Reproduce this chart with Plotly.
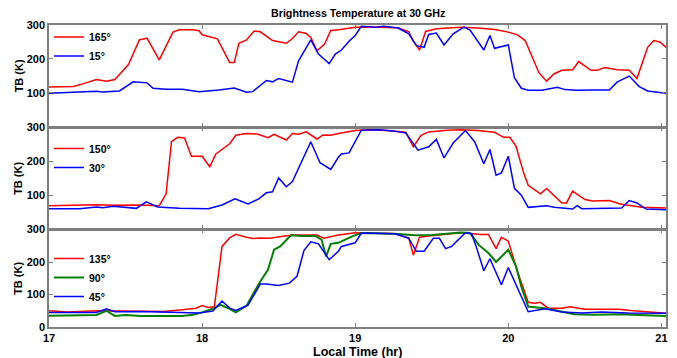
import plotly.graph_objects as go
from plotly.subplots import make_subplots

# ---------------- data (local time in hr, brightness temperature in K) ----------------
t_165 = [17.00, 17.08, 17.16, 17.22, 17.27, 17.31, 17.375, 17.43, 17.46, 17.52, 17.59, 17.64, 17.72, 17.81,
         17.85, 17.94, 17.98, 18.00, 18.10, 18.18, 18.21, 18.24, 18.29, 18.34, 18.38, 18.46, 18.55, 18.59,
         18.63, 18.68, 18.71, 18.75, 18.80, 18.84, 18.89, 19.00, 19.10, 19.20, 19.28, 19.35, 19.38, 19.42,
         19.46, 19.53, 19.60, 19.69, 19.80, 19.91, 20.00, 20.06, 20.11, 20.15, 20.20, 20.25, 20.30, 20.35,
         20.42, 20.46, 20.54, 20.58, 20.63, 20.71, 20.79, 20.84, 20.91, 20.95, 20.99, 21.03]
v_165 = [117, 118, 118, 126, 134, 139, 134, 139, 154, 184, 256, 261, 197, 279,
         286, 286, 283, 271, 259, 189, 189, 246, 256, 282, 280, 254, 246, 260,
         280, 275, 263, 224, 244, 284, 286, 293, 294, 294, 292, 280, 252, 226,
         281, 289, 291, 293, 291, 287, 279, 271, 254, 214, 159, 134, 156, 166,
         168, 192, 166, 166, 174, 168, 166, 142, 234, 254, 250, 234]

t_15 = [17.00, 17.115, 17.22, 17.31, 17.35, 17.42, 17.46, 17.55, 17.64, 17.68, 17.765, 17.87, 17.98, 18.11,
        18.21, 18.29, 18.33, 18.42, 18.46, 18.50, 18.59, 18.63, 18.71, 18.76, 18.83, 18.87, 18.91, 18.96,
        19.00, 19.04, 19.13, 19.185, 19.28, 19.35, 19.40, 19.45, 19.48, 19.53, 19.58, 19.64, 19.71, 19.75,
        19.78, 19.84, 19.88, 19.91, 20.00, 20.04, 20.085, 20.13, 20.22, 20.32, 20.37, 20.45, 20.55, 20.66,
        20.71, 20.79, 20.855, 20.91, 21.03]
v_15 = [98, 100, 101, 104, 102, 105, 105, 132, 129, 113, 110, 110, 103, 108,
        114, 101, 103, 136, 132, 142, 131, 194, 256, 214, 186, 214, 226, 252,
        269, 296, 293, 296, 291, 274, 239, 234, 272, 276, 241, 274, 294, 285,
        264, 226, 269, 231, 241, 144, 113, 107, 107, 116, 109, 107, 108, 108,
        131, 149, 118, 105, 98]

t_150 = [17.00, 17.15, 17.31, 17.42, 17.59, 17.72, 17.765, 17.80, 17.84, 17.885, 17.93, 18.00, 18.05, 18.09,
         18.18, 18.22, 18.29, 18.36, 18.43, 18.47, 18.55, 18.59, 18.63, 18.68, 18.75, 18.79, 18.84, 18.89,
         19.00, 19.10, 19.20, 19.33, 19.38, 19.43, 19.48, 19.60, 19.69, 19.80, 19.91, 19.97, 20.01, 20.05,
         20.10, 20.13, 20.21, 20.25, 20.35, 20.38, 20.42, 20.50, 20.55, 20.66, 20.73, 20.87, 21.03]
v_150 = [69, 70, 72, 70, 71, 69, 104, 258, 271, 269, 215, 215, 184, 222,
         252, 277, 282, 281, 270, 280, 263, 282, 280, 287, 266, 278, 277, 282,
         291, 293, 291, 286, 243, 277, 287, 292, 293, 291, 286, 271, 271, 245,
         166, 129, 104, 120, 77, 77, 112, 87, 83, 84, 74, 64, 62]

t_30 = [17.00, 17.115, 17.20, 17.31, 17.35, 17.42, 17.51, 17.57, 17.635, 17.71, 17.85, 17.94, 18.04, 18.13,
        18.215, 18.30, 18.37, 18.42, 18.46, 18.50, 18.55, 18.59, 18.66, 18.71, 18.77, 18.84, 18.89, 18.91,
        18.96, 19.04, 19.15, 19.25, 19.33, 19.41, 19.48, 19.53, 19.58, 19.64, 19.72, 19.78, 19.84, 19.88,
        19.92, 19.955, 20.00, 20.04, 20.085, 20.13, 20.25, 20.30, 20.42, 20.45, 20.48, 20.60, 20.74, 20.79,
        20.84, 20.90, 21.03]
v_30 = [60, 61, 60, 65, 63, 67, 63, 61, 80, 65, 61, 60, 60, 71,
        89, 74, 89, 107, 110, 151, 125, 140, 210, 258, 196, 176, 212, 222,
        225, 292, 293, 290, 284, 233, 243, 265, 210, 254, 291, 258, 193, 235,
        159, 166, 215, 120, 100, 64, 69, 64, 59, 69, 60, 60, 62, 84,
        77, 59, 57]

t_135 = [17.00, 17.12, 17.31, 17.53, 17.75, 17.87, 17.96, 18.00, 18.04, 18.08, 18.13, 18.18, 18.22, 18.29,
         18.33, 18.38, 18.44, 18.54, 18.60, 18.75, 18.795, 18.89, 19.00, 19.26, 19.35, 19.38, 19.42, 19.48,
         19.69, 19.82, 19.87, 19.92, 19.955, 20.00, 20.06, 20.13, 20.17, 20.21, 20.26, 20.35, 20.40, 20.50,
         20.58, 20.72, 20.80, 21.03]
v_135 = [50, 46, 50, 48, 48, 53, 58, 66, 60, 62, 248, 274, 285, 276,
         272, 274, 273, 280, 283, 283, 273, 283, 290, 287, 274, 221, 276, 280,
         290, 285, 285, 241, 276, 264, 171, 76, 73, 76, 58, 58, 62, 55,
         55, 55, 51, 42]

t_90 = [17.00, 17.31, 17.375, 17.43, 17.50, 17.60, 17.87, 17.94, 18.00, 18.07, 18.12, 18.18, 18.22, 18.29,
        18.33, 18.38, 18.43, 18.47, 18.51, 18.55, 18.58, 18.65, 18.74, 18.78, 18.81, 18.84, 18.89, 18.98,
        19.04, 19.26, 19.39, 19.50, 19.69, 19.75, 19.81, 19.87, 19.92, 20.00, 20.05, 20.085, 20.13, 20.26,
        20.43, 20.55, 20.75, 20.85, 21.03]
v_90 = [35, 37, 50, 34, 37, 34, 34, 38, 45, 56, 68, 56, 45, 65,
        99, 140, 176, 238, 248, 269, 282, 280, 280, 269, 217, 256, 259, 279,
        289, 287, 282, 283, 291, 289, 251, 228, 200, 238, 187, 125, 63, 56,
        39, 38, 39, 37, 34]

t_45 = [17.00, 17.12, 17.31, 17.375, 17.43, 17.60, 17.76, 17.98, 18.07, 18.13, 18.18, 18.22, 18.30, 18.38,
        18.42, 18.50, 18.57, 18.62, 18.665, 18.71, 18.76, 18.83, 18.89, 18.91, 19.00, 19.04, 19.26, 19.35,
        19.40, 19.45, 19.51, 19.55, 19.59, 19.63, 19.72, 19.76, 19.79, 19.84, 19.88, 19.955, 20.00, 20.13,
        20.24, 20.35, 20.48, 20.61, 20.78, 21.03]
v_45 = [45, 45, 45, 56, 47, 48, 45, 43, 49, 80, 58, 51, 67, 132,
        132, 128, 135, 156, 235, 262, 256, 207, 233, 248, 259, 289, 287, 273,
        233, 233, 273, 273, 241, 248, 290, 287, 248, 173, 210, 130, 183, 47,
        56, 46, 43, 46, 43, 42]

x_ticks = [17, 18, 19, 20, 21]
y_ticks = [0, 100, 200, 300]

RED, BLUE, GREEN = "#ff0000", "#0000ff", "#008000"
AX = "#7f7f7f"
FONT = "Liberation Sans"

fig = make_subplots(rows=3, cols=1, shared_xaxes=True, vertical_spacing=0)

series = [
    (1, t_165, v_165, "165°", RED, "legend"),
    (1, t_15, v_15, "15°", BLUE, "legend"),
    (2, t_150, v_150, "150°", RED, "legend2"),
    (2, t_30, v_30, "30°", BLUE, "legend2"),
    (3, t_135, v_135, "135°", RED, "legend3"),
    (3, t_90, v_90, "90°", GREEN, "legend3"),
    (3, t_45, v_45, "45°", BLUE, "legend3"),
]
for row, t, v, name, col, leg in series:
    fig.add_trace(go.Scatter(x=t, y=v, mode="lines", name=name, legend=leg,
                             line=dict(color=col, width=1.5 if col != GREEN else 2)),
                  row=row, col=1)

# plot area spans 25..327 px vertically (302 px)
def py(px):
    return (327 - px) / 302

domains = {1: [py(126.5), 1.0], 2: [py(229), py(127.5)], 3: [0.0, py(229.5)]}

for r in (1, 2, 3):
    fig.update_xaxes(range=[17, 21.03], tickvals=x_ticks, ticks="inside", ticklen=4,
                     tickcolor=AX, showline=True, linecolor=AX, linewidth=1.5, mirror="ticks",
                     showgrid=False, zeroline=False, showticklabels=(r == 3),
                     tickfont=dict(family=FONT, size=11, color="black", weight="bold"),
                     row=r, col=1)
    fig.update_yaxes(range=[0, 300], tickvals=y_ticks,
                     ticktext=(["0", "100", "200", "300"] if r == 3 else ["", "100", "200", "300"]),
                     ticks="inside", ticklen=4, tickcolor=AX, showline=True, linecolor=AX,
                     linewidth=1.5, mirror="ticks", showgrid=False, zeroline=False,
                     tickfont=dict(family=FONT, size=11, color="black", weight="bold"),
                     domain=domains[r], row=r, col=1)

leg_common = dict(font=dict(family=FONT, size=10.5, color="black", weight="bold"),
                  bgcolor="rgba(255,255,255,0)", borderwidth=0, xanchor="left", yanchor="top",
                  itemwidth=30, tracegroupgap=0)

annotations = [
    dict(text="Brightness Temperature at 30 GHz", x=0.5, y=py(13), xref="paper", yref="paper",
         showarrow=False, xanchor="center", yanchor="middle",
         font=dict(family=FONT, size=10.7, color="black", weight="bold")),
    dict(text="Local Time (hr)", x=0.5, y=py(351.5), xref="paper", yref="paper",
         showarrow=False, xanchor="center", yanchor="middle",
         font=dict(family=FONT, size=12.5, color="black", weight="bold")),
]
for r in (1, 2, 3):
    d = domains[r]
    annotations.append(dict(text="TB (K)", x=(18.5 - 49) / 619, y=(d[0] + d[1]) / 2,
                            xref="paper", yref="paper", showarrow=False, textangle=-90,
                            xanchor="center", yanchor="middle",
                            font=dict(family=FONT, size=11, color="black", weight="bold")))

fig.update_layout(
    width=677, height=358,
    margin=dict(l=49, r=9, t=25, b=31),
    paper_bgcolor="white", plot_bgcolor="white",
    showlegend=True,
    legend=dict(x=0.0, y=py(22.5), **leg_common),
    legend2=dict(x=0.0, y=py(134), **leg_common),
    legend3=dict(x=0.0, y=py(244), **leg_common),
    annotations=annotations,
)

fig.write_html("out.html")
